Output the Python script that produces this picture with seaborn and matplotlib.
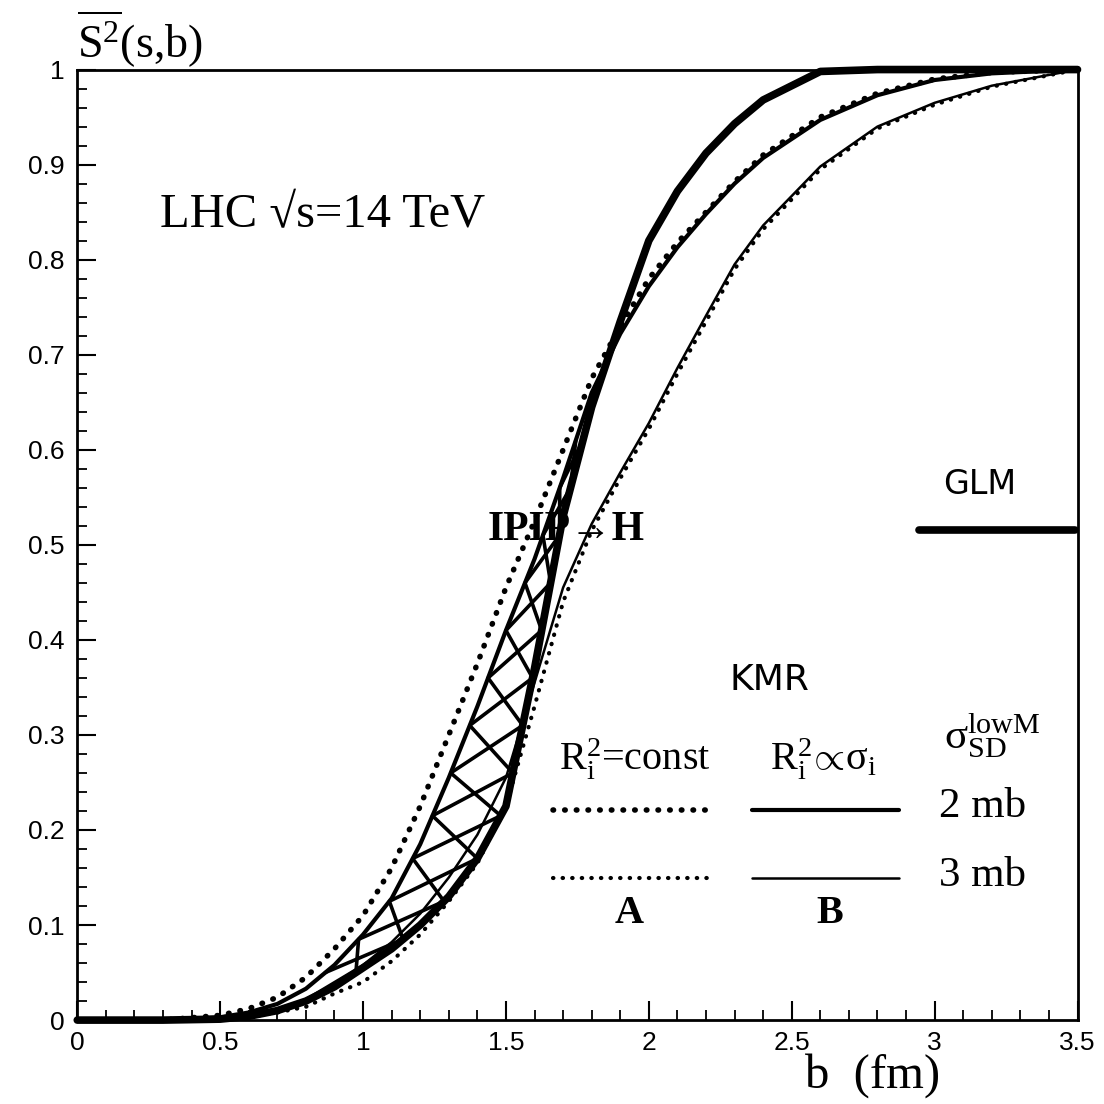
import matplotlib
matplotlib.use("Agg")
import matplotlib.pyplot as plt
import numpy as np
import seaborn as sns

# impact parameter grid (fm)
b = [0.0, 0.3, 0.5, 0.6, 0.7, 0.8, 0.9, 1.0, 1.1, 1.2, 1.3, 1.4, 1.5, 1.6,
     1.7, 1.8, 1.9, 2.0, 2.1, 2.2, 2.3, 2.4, 2.6, 2.8, 3.0, 3.2, 3.5]

# survival probability curves
glm = [0.0, 0.0, 0.001, 0.004, 0.010, 0.020, 0.035, 0.055, 0.075, 0.100, 0.130,
       0.170, 0.225, 0.370, 0.530, 0.645, 0.735, 0.820, 0.872, 0.912, 0.943,
       0.968, 0.998, 1.0, 1.0, 1.0, 1.0]
kmr_a_2mb = [0.0, 0.0, 0.005, 0.012, 0.024, 0.045, 0.075, 0.110, 0.160, 0.225,
             0.300, 0.375, 0.455, 0.525, 0.600, 0.675, 0.730, 0.780, 0.818,
             0.850, 0.882, 0.910, 0.950, 0.975, 0.990, 0.997, 1.0]
kmr_b_2mb = [0.0, 0.0, 0.003, 0.008, 0.017, 0.033, 0.058, 0.090, 0.128, 0.185,
             0.255, 0.330, 0.410, 0.485, 0.570, 0.660, 0.722, 0.772, 0.813,
             0.848, 0.880, 0.907, 0.947, 0.973, 0.989, 0.996, 1.0]
kmr_a_3mb = [0.0, 0.0, 0.0, 0.003, 0.008, 0.014, 0.028, 0.040, 0.062, 0.090,
             0.125, 0.165, 0.225, 0.330, 0.440, 0.515, 0.570, 0.622, 0.680,
             0.735, 0.790, 0.832, 0.895, 0.938, 0.963, 0.982, 1.0]
kmr_b_3mb = [0.0, 0.0, 0.002, 0.005, 0.012, 0.022, 0.040, 0.058, 0.082, 0.112,
             0.150, 0.195, 0.255, 0.355, 0.455, 0.522, 0.576, 0.628, 0.686,
             0.741, 0.795, 0.836, 0.898, 0.940, 0.965, 0.983, 1.0]

# S levels of the cross-hatch vertices in the band between KMR (B, 2 mb) and GLM
hatch_s = [0.05, 0.085, 0.125, 0.17, 0.215, 0.26, 0.31, 0.36, 0.41, 0.46,
           0.51, 0.56, 0.61]

x_ticks = [0, 0.5, 1, 1.5, 2, 2.5, 3, 3.5]
x_labels = ["0", "0.5", "1", "1.5", "2", "2.5", "3", "3.5"]
y_ticks = [0, 0.1, 0.2, 0.3, 0.4, 0.5, 0.6, 0.7, 0.8, 0.9, 1.0]
y_labels = ["0", "0.1", "0.2", "0.3", "0.4", "0.5", "0.6", "0.7", "0.8", "0.9", "1"]

sns.set_theme(style="ticks")
plt.rcParams["font.family"] = ["Liberation Serif", "DejaVu Serif"]
plt.rcParams["text.color"] = "black"
plt.rcParams["xtick.color"] = "black"
plt.rcParams["ytick.color"] = "black"
plt.rcParams["mathtext.fontset"] = "custom"
plt.rcParams["mathtext.rm"] = "Liberation Serif"
plt.rcParams["mathtext.it"] = "Liberation Serif:italic"
plt.rcParams["mathtext.bf"] = "Liberation Serif:bold"

fig = plt.figure(figsize=(11.04, 11.04), dpi=100)
ax = fig.add_axes([0.070, 0.076, 0.906, 0.861])

dots_thick = (0, (0.1, 2.0))
dots_thin = (0, (0.1, 2.2))

sns.lineplot(x=b, y=kmr_a_2mb, ax=ax, color="black", linewidth=4.0,
             linestyle=dots_thick, dash_capstyle="round", clip_on=False)
sns.lineplot(x=b, y=kmr_b_2mb, ax=ax, color="black", linewidth=3.0, clip_on=False)
sns.lineplot(x=b, y=kmr_a_3mb, ax=ax, color="black", linewidth=3.0,
             linestyle=dots_thin, dash_capstyle="round", clip_on=False)
sns.lineplot(x=b, y=kmr_b_3mb, ax=ax, color="black", linewidth=1.8, clip_on=False)
sns.lineplot(x=b, y=glm, ax=ax, color="black", linewidth=5.5,
             solid_capstyle="round", clip_on=False)

# cross-hatching: two zigzags bouncing between the band edges at the same S levels
left_edge = np.interp(hatch_s, kmr_b_2mb[2:], b[2:])
right_edge = np.interp(hatch_s, glm[2:22], b[2:22])
idx = np.arange(len(hatch_s))
zig1 = np.where(idx % 2 == 0, left_edge, right_edge)
zig2 = np.where(idx % 2 == 0, right_edge, left_edge)
sns.lineplot(x=zig1, y=hatch_s, ax=ax, color="black", linewidth=2.6, sort=False)
sns.lineplot(x=zig2, y=hatch_s, ax=ax, color="black", linewidth=2.6, sort=False)

ax.set_xlim(0, 3.5)
ax.set_ylim(0, 1)
ax.set_xticks(x_ticks, x_labels)
ax.set_yticks(y_ticks, y_labels)
ax.set_xticks(np.arange(0, 3.51, 0.1), minor=True)
ax.set_yticks(np.arange(0, 1.001, 0.02), minor=True)
ax.tick_params(which="major", direction="in", length=14, width=1.5,
               labelsize=19, labelfontfamily="Liberation Sans")
ax.tick_params(which="minor", direction="in", length=7, width=1.3)
ax.tick_params(axis="x", pad=8)
ax.tick_params(axis="y", pad=9)
for side in ["left", "bottom", "top", "right"]:
    ax.spines[side].set_linewidth(2)
    ax.spines[side].set_color("black")

ax.text(0.0, 1.032, r"$\overline{\mathrm{S}^{2}}$(s,b)", transform=ax.transAxes,
        fontsize=33, ha="left", va="center")
ax.text(0.795, -0.058, "b  (fm)", transform=ax.transAxes, fontsize=35,
        ha="center", va="center")

ax.text(0.083, 0.847, "LHC \u221as=14 TeV", transform=ax.transAxes,
        fontsize=35, ha="left", va="center")
ax.text(0.41, 0.516, "IPIP\u2192H", transform=ax.transAxes, fontsize=30,
        fontweight="bold", ha="left", va="center")

ax.text(0.902, 0.563, "GLM", transform=ax.transAxes, fontsize=24,
        family="DejaVu Sans", ha="center", va="center")
ax.plot([0.842, 0.997], [0.516, 0.516], transform=ax.transAxes, color="black",
        linewidth=5.5, solid_capstyle="round")

ax.text(0.692, 0.358, "KMR", transform=ax.transAxes, fontsize=26,
        family="DejaVu Sans", ha="center", va="center")
ax.text(0.557, 0.274, r"$\mathrm{R_i^2}$=const", transform=ax.transAxes,
        fontsize=29, ha="center", va="center")
ax.text(0.746, 0.274, r"$\mathrm{R_i^2\!\propto\!σ_i}$", transform=ax.transAxes,
        fontsize=29, ha="center", va="center")
ax.text(0.915, 0.300, r"$\mathrm{σ_{SD}^{lowM}}$", transform=ax.transAxes,
        fontsize=31, ha="center", va="center")

ax.plot([0.476, 0.630], [0.221, 0.221], transform=ax.transAxes, color="black",
        linewidth=4.0, linestyle=dots_thick, dash_capstyle="round")
ax.plot([0.675, 0.822], [0.221, 0.221], transform=ax.transAxes, color="black",
        linewidth=3.0)
ax.plot([0.476, 0.630], [0.149, 0.149], transform=ax.transAxes, color="black",
        linewidth=3.0, linestyle=dots_thin, dash_capstyle="round")
ax.plot([0.675, 0.822], [0.149, 0.149], transform=ax.transAxes, color="black",
        linewidth=1.8)
ax.text(0.862, 0.224, "2 mb", transform=ax.transAxes, fontsize=31,
        ha="left", va="center")
ax.text(0.862, 0.152, "3 mb", transform=ax.transAxes, fontsize=31,
        ha="left", va="center")
ax.text(0.552, 0.112, "A", transform=ax.transAxes, fontsize=29,
        fontweight="bold", ha="center", va="center")
ax.text(0.752, 0.112, "B", transform=ax.transAxes, fontsize=29,
        fontweight="bold", ha="center", va="center")

fig.savefig("out.png", dpi=100, facecolor="white")
